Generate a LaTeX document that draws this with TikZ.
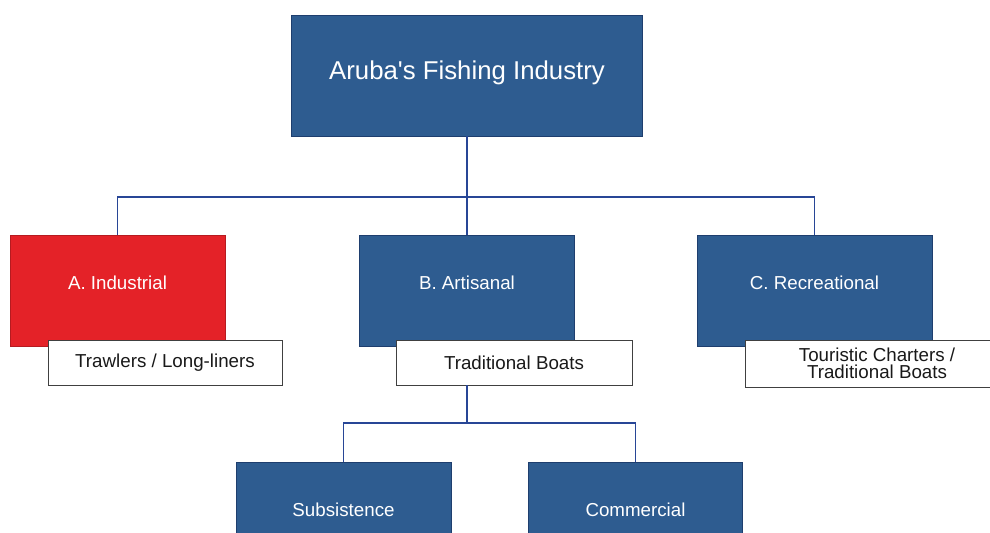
\documentclass[tikz,border=0pt]{standalone}
\usepackage{fontspec}
\setmainfont{Liberation Sans}
\newfontfamily\straightsans{Liberation Sans}
\usepackage{xcolor}
\usepackage{tikz}
\usetikzlibrary{shapes,arrows,positioning}

\definecolor{boxblue}{RGB}{46,92,144}
\definecolor{edgeblue}{RGB}{30,62,110}
\definecolor{boxred}{RGB}{228,34,40}
\definecolor{linkblue}{RGB}{40,70,150}

\begin{document}
            \begin{tikzpicture}[
                x=0.03cm, y=-0.03cm,
                sector/.style={
                    rectangle,
                    draw=edgeblue,
                    line width=0.4pt,
                    fill=boxblue,
                    text=white,
                    font=\fontsize{16}{18}\selectfont,
                    minimum width=6.45cm,
                    minimum height=3.33cm,
                    text height=12pt,
                    text depth=13pt,
                    inner sep=0pt
                    },
                fleet/.style={
                    rectangle,
                    draw=black!75,
                    line width=0.7pt,
                    fill=white,
                    text=black!90,
                    font=\fontsize{16}{14.5}\selectfont,
                    align=center,
                    minimum height=1.35cm,
                    inner sep=0pt
                    },
                link/.style={
                    draw=linkblue,
                    line width=1pt
                    }
                ]
                \useasboundingbox (0,0) rectangle (990,532);
                \clip (0,0) rectangle (990,532);

                \node[sector, minimum width=10.53cm, minimum height=3.63cm,
                    font=\straightsans\fontsize{22}{24}\selectfont,
                    text height=16pt, text depth=9.6pt] (fishing) at (467,75.5) {Aruba's Fishing Industry};

                \node[sector, fill=boxred, draw=boxred!80!black] (industrial) at (117.5,290.5) {A. Industrial};
                \node[sector] (artisanal) at (467,290.5) {B. Artisanal};
                \node[sector, minimum width=7.05cm] (recreational) at (814.5,290.5) {C. Recreational};

                \node[fleet, minimum width=7.02cm] (trawlers) at (165,362.5) {Trawlers / Long-liners};
                \node[fleet, minimum width=7.08cm] (tradboats) at (514,362.5) {Traditional Boats};
                \node[fleet, minimum width=7.92cm, minimum height=1.41cm] (charters) at (877,363.5) {Touristic Charters /\\Traditional Boats};

                \node[sector] (subsistence) at (343.5,517.5) {Subsistence};
                \node[sector, minimum width=6.42cm] (commercial) at (635.5,517.5) {Commercial};

                \coordinate (hub) at (467,197);
                \coordinate (split) at (467,423);

                \draw[link] (fishing.south) -- (artisanal.north);
                \draw[link] (industrial.north) |- (hub) -| (recreational.north);
                \draw[link] (artisanal.south |- tradboats.south) -- (split);
                \draw[link] (subsistence.north) |- (split) -| (commercial.north);
            \end{tikzpicture}
\end{document}
